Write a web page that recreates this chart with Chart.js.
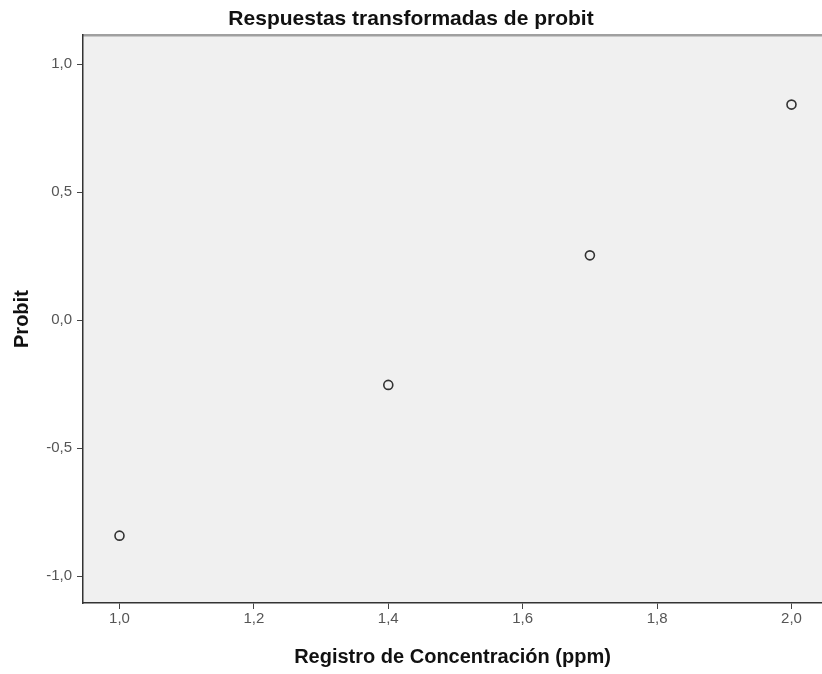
<!DOCTYPE html>
<html lang="es">
<head>
  <meta charset="UTF-8">
  <title>Respuestas transformadas de probit</title>
  <script src="https://cdn.jsdelivr.net/npm/chart.js"></script>
  <style>
    html, body { margin: 0; padding: 0; background: #fff; overflow: hidden; }
    #wrap { position: relative; width: 822px; height: 674px; }
    canvas { display: block; }
  </style>
</head>
<body>
  <div id="wrap"><canvas id="grafico"></canvas></div>
<script>
  // datos
  const concentracion = [1.0, 1.4, 1.7, 2.0];
  const probit = [-0.842, -0.253, 0.253, 0.842];
  const ticksX = [1.0, 1.2, 1.4, 1.6, 1.8, 2.0];
  const ticksY = [-1.0, -0.5, 0.0, 0.5, 1.0];

  const fuente = "'Liberation Sans', Arial, sans-serif";

  // fondo gris del area del grafico y linea superior
  const fondoArea = {
    id: 'fondoArea',
    beforeDraw(chart) {
      const { ctx, chartArea: a } = chart;
      ctx.save();
      ctx.fillStyle = '#f0f0f0';
      ctx.fillRect(a.left, a.top, a.right - a.left, a.bottom - a.top);
      ctx.strokeStyle = '#a0a0a0';
      ctx.lineWidth = 2.5;
      ctx.beginPath();
      ctx.moveTo(a.left, a.top);
      ctx.lineTo(a.right, a.top);
      ctx.stroke();
      ctx.restore();
    }
  };

  function coma(v) {
    return v.toFixed(1).replace('.', ',');
  }

  new Chart(document.getElementById('grafico'), {
    type: 'scatter',
    data: {
      datasets: [{
        label: 'Probit',
        data: concentracion.map((x, i) => ({ x: x, y: probit[i] })),
        pointRadius: 4.5,
        pointHoverRadius: 4.5,
        pointBorderWidth: 1.6,
        borderColor: '#333',
        backgroundColor: 'rgba(0,0,0,0)'
      }]
    },
    options: {
      responsive: true,
      maintainAspectRatio: false,
      animation: false,
      layout: { padding: 0, autoPadding: false },
      plugins: {
        legend: { display: false },
        tooltip: { enabled: false },
        title: {
          display: true,
          text: 'Respuestas transformadas de probit',
          color: '#111',
          font: { family: fuente, size: 21, weight: 'bold' },
          padding: { top: 7, bottom: 3 }
        }
      },
      scales: {
        x: {
          type: 'linear',
          min: 0.9457,
          max: 2.0454,
          afterBuildTicks: s => { s.ticks = ticksX.map(v => ({ value: v })); },
          afterFit: s => { s.height = 71; s.paddingLeft = 0; s.paddingRight = 0; },
          grid: { drawOnChartArea: false, drawTicks: true, tickLength: 6, color: '#444' },
          border: { display: true, color: '#333', width: 1.5 },
          ticks: {
            color: '#555',
            font: { family: fuente, size: 15 },
            padding: 1,
            maxRotation: 0,
            autoSkip: false,
            callback: v => coma(v)
          },
          title: {
            display: true,
            text: 'Registro de Concentración (ppm)',
            color: '#111',
            font: { family: fuente, size: 20, weight: 'bold' },
            padding: { top: 0, bottom: 5 }
          }
        },
        y: {
          type: 'linear',
          min: -1.105,
          max: 1.113,
          afterBuildTicks: s => { s.ticks = ticksY.map(v => ({ value: v })); },
          afterFit: s => { s.width = 83; s.paddingTop = 0; s.paddingBottom = 0; },
          grid: { drawOnChartArea: false, drawTicks: true, tickLength: 6, color: '#444' },
          border: { display: true, color: '#333', width: 1.5 },
          ticks: {
            color: '#555',
            font: { family: fuente, size: 15 },
            padding: 5,
            autoSkip: false,
            callback: v => coma(v)
          },
          title: {
            display: true,
            text: 'Probit',
            color: '#111',
            font: { family: fuente, size: 20, weight: 'bold' },
            padding: { top: 10, bottom: 0 }
          }
        }
      }
    },
    plugins: [fondoArea]
  });
</script>
</body>
</html>
